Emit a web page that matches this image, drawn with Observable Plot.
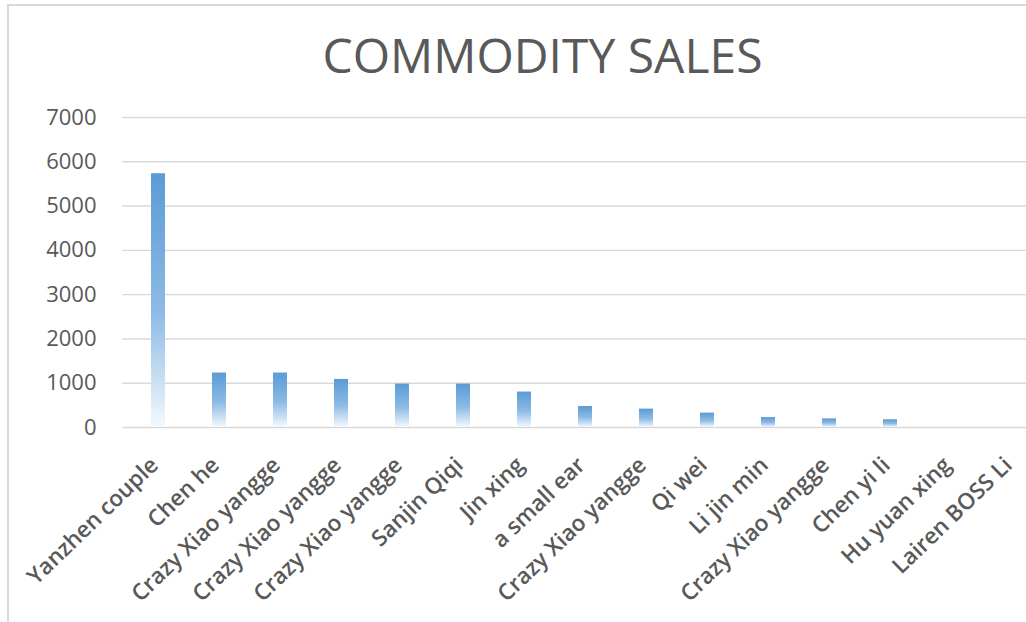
<!DOCTYPE html>
<html><head><meta charset="utf-8">
<script src="https://cdn.jsdelivr.net/npm/d3@7"></script>
<script src="https://cdn.jsdelivr.net/npm/@observablehq/plot@0.6"></script>
<style>
html,body{margin:0;padding:0;background:#fff;overflow:hidden;width:1026px;height:622px}
#frame{position:absolute;left:7px;top:4px;width:1100px;height:700px;border:2px solid #d9d9d9;overflow:hidden;background:#fff}
#title{box-sizing:border-box;width:1067px;height:100px;padding-top:25px;text-align:center;font-family:"Open Sans",sans-serif;font-size:48px;line-height:47px;color:#595959;white-space:nowrap}
#chart svg{display:block;overflow:visible}
</style>
</head><body>
<div id="frame"><div id="title">COMMODITY SALES</div><div id="chart"></div></div>
<script>
const names = ["Yanzhen couple","Chen he","Crazy Xiao yangge","Crazy Xiao yangge","Crazy Xiao yangge","Sanjin Qiqi","Jin xing","a small ear","Crazy Xiao yangge","Qi wei","Li jin min","Crazy Xiao yangge","Chen yi li","Hu yuan xing","Lairen BOSS Li"];
const sales = [5730,1230,1230,1085,980,980,800,475,415,325,225,195,175,0,0];
const yTicks = [0,1000,2000,3000,4000,5000,6000,7000];

const data = names.map((n,i)=>({i, name:n, sales:sales[i]}));
const NS = "http://www.w3.org/2000/svg";
function gradientDefs(){
  const defs = document.createElementNS(NS,"defs");
  const g = document.createElementNS(NS,"linearGradient");
  g.setAttribute("id","barGrad");
  g.setAttribute("x1","0");g.setAttribute("y1","0");g.setAttribute("x2","0");g.setAttribute("y2","1");
  [["0","#5b9bd5"],["0.55","#8dbbe5"],["1","#f4f9fd"]].forEach(([o,c])=>{
    const s=document.createElementNS(NS,"stop");s.setAttribute("offset",o);s.setAttribute("stop-color",c);g.appendChild(s);
  });
  defs.appendChild(g);
  return defs;
}
const chart = Plot.plot({
  width:1040, height:516,
  marginLeft:113, marginRight:0, marginTop:11, marginBottom:195,
  style:{fontFamily:"Open Sans, sans-serif", fontSize:"22px", color:"#595959", background:"transparent", overflow:"visible"},
  x:{type:"band", domain:d3.range(names.length), paddingInner:0.77, paddingOuter:0.385, tickFormat:i=>names[i], tickRotate:-44, tickSize:0, tickPadding:31, label:null},
  y:{domain:[0,7000], ticks:yTicks, tickFormat:d=>String(d), tickSize:0, tickPadding:26, label:null},
  marks:[
    gradientDefs,
    Plot.ruleY(yTicks,{stroke:"#d9d9d9", strokeWidth:1.4}),
    Plot.barY(data,{x:"i", y:"sales", fill:"url(#barGrad)"})
  ]
});
d3.select(chart).selectAll("g").filter(function(){const a=this.getAttribute("aria-label");return a&&a.startsWith("x-axis");})
  .each(function(){
    const t=this.getAttribute("transform")||"";
    this.setAttribute("transform",(t+" translate(-4,3)").trim());
    d3.select(this).selectAll("text").style("font-size","22.5px").style("font-weight","600");
  });
document.getElementById("chart").appendChild(chart);
</script>
</body></html>
